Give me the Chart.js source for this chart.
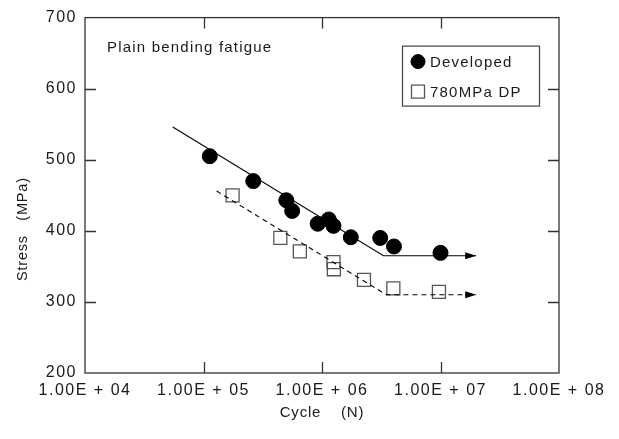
<!DOCTYPE html>
<html>
<head>
<meta charset="utf-8">
<script src="https://cdn.jsdelivr.net/npm/chart.js@4.4.1/dist/chart.umd.min.js"></script>
<style>
  html, body { margin: 0; padding: 0; background: #fff; }
  #wrap { width: 619px; height: 439px; }
</style>
</head>
<body>
<div id="wrap"><canvas id="c"></canvas></div>
<script>
// values
const developedCycles = [1.13e5, 2.63e5, 5.0e5, 5.6e5, 9.2e5, 1.14e6, 1.25e6, 1.75e6, 3.1e6, 4.05e6, 1.0e7];
const developedStress = [505, 470, 443, 428, 410, 416, 407, 391, 390, 378, 369];
const dpCycles = [1.76e5, 4.45e5, 6.5e5, 1.25e6, 1.26e6, 2.26e6, 4.0e6, 9.7e6];
const dpStress = [450, 390, 371, 356, 346, 331, 319, 314];

// fatigue limit lines (start, knee, arrow tip)
const developedFitCycles = [5.5e4, 3.3e6, 2.0e7];
const developedFitStress = [546, 365, 365];
const dpFitCycles = [1.29e5, 3.5e6, 2.0e7];
const dpFitStress = [456, 310, 310];

const xTickValues = [1e4, 1e5, 1e6, 1e7, 1e8];
const xTickLabels = ['1.00E + 04', '1.00E + 05', '1.00E + 06', '1.00E + 07', '1.00E + 08'];
const yTickValues = [200, 300, 400, 500, 600, 700];

const seriesNames = ['Developed', '780MPa DP'];
const noteText = 'Plain bending fatigue';

const toPoints = (xs, ys) => xs.map((x, i) => ({ x: x, y: ys[i] }));

Chart.defaults.font.family = "'Liberation Sans', Arial, sans-serif";
Chart.defaults.color = '#1a1a1a';

const LABEL_SPACING = '1.5px';
const TITLE_SPACING = '0.8px';

const framePlugin = {
  id: 'frame',
  beforeUpdate(chart) {
    chart.ctx.letterSpacing = LABEL_SPACING;
  },
  beforeDraw(chart) {
    // axis titles are drawn in the first scale layer
    chart.ctx.letterSpacing = TITLE_SPACING;
  },
  beforeDatasetsDraw(chart) {
    const { ctx, chartArea: a, scales } = chart;
    ctx.save();
    ctx.strokeStyle = '#333';
    ctx.lineWidth = 1.3;
    ctx.strokeRect(a.left, a.top, a.width, a.height);
    ctx.beginPath();
    xTickValues.slice(1, -1).forEach(v => {
      const px = Math.round(scales.x.getPixelForValue(v)) + 0.5;
      ctx.moveTo(px, a.bottom); ctx.lineTo(px, a.bottom - 11);
      ctx.moveTo(px, a.top); ctx.lineTo(px, a.top + 11);
    });
    yTickValues.slice(1, -1).forEach(v => {
      const py = Math.round(scales.y.getPixelForValue(v)) + 0.5;
      ctx.moveTo(a.left, py); ctx.lineTo(a.left + 11, py);
      ctx.moveTo(a.right, py); ctx.lineTo(a.right - 11, py);
    });
    ctx.stroke();
    ctx.restore();
  },
  afterDatasetsDraw(chart) {
    const { ctx, chartArea: a } = chart;
    ctx.save();
    // arrow heads at the end of the limit lines
    chart.data.datasets.forEach((ds, i) => {
      if (!ds.arrow) return;
      const meta = chart.getDatasetMeta(i);
      const tip = meta.data[meta.data.length - 1];
      ctx.fillStyle = '#000';
      ctx.beginPath();
      ctx.moveTo(tip.x, tip.y);
      ctx.lineTo(tip.x - 11, tip.y - 3.5);
      ctx.lineTo(tip.x - 11, tip.y + 3.5);
      ctx.closePath();
      ctx.fill();
    });

    ctx.letterSpacing = '1.2px';
    // note in upper left
    ctx.font = "15px 'Liberation Sans', Arial, sans-serif";
    ctx.fillStyle = '#1a1a1a';
    ctx.textBaseline = 'middle';
    ctx.textAlign = 'left';
    ctx.fillText(noteText, a.left + 22, a.top + 30);

    // legend box
    const bx = a.right - 157, by = a.top + 28, bw = 137, bh = 60;
    ctx.fillStyle = '#fff';
    ctx.fillRect(bx, by, bw, bh);
    ctx.strokeStyle = '#444';
    ctx.lineWidth = 1.2;
    ctx.strokeRect(bx + 0.5, by + 0.5, bw, bh);
    const legendSets = chart.data.datasets.filter(ds => ds.label);
    legendSets.forEach((ds, k) => {
      const cy = by + 16 + k * 30;
      ctx.fillStyle = ds.pointStyle === 'rect' ? '#fff' : ds.backgroundColor;
      ctx.strokeStyle = ds.borderColor;
      ctx.lineWidth = ds.pointBorderWidth || 1;
      Chart.helpers.drawPoint(ctx, {
        pointStyle: ds.pointStyle,
        radius: ds.pointStyle === 'rect' ? 9.2 : 7,
        rotation: 0,
        borderWidth: ds.pointBorderWidth || 1
      }, bx + 16, cy);
      ctx.fillStyle = '#1a1a1a';
      ctx.fillText(ds.label, bx + 28, cy + 1);
    });
    ctx.restore();
    // tick labels (z: 1) come after this
    ctx.letterSpacing = LABEL_SPACING;
  }
};

new Chart(document.getElementById('c'), {
  type: 'scatter',
  data: {
    datasets: [
      {
        data: toPoints(developedFitCycles, developedFitStress),
        showLine: true,
        borderColor: '#000',
        borderWidth: 1.1,
        pointRadius: 0,
        arrow: true
      },
      {
        data: toPoints(dpFitCycles, dpFitStress),
        showLine: true,
        borderColor: '#000',
        borderWidth: 1.1,
        borderDash: [5, 4],
        pointRadius: 0,
        arrow: true
      },
      {
        label: seriesNames[0],
        data: toPoints(developedCycles, developedStress),
        pointStyle: 'circle',
        pointRadius: 7.5,
        backgroundColor: '#000',
        borderColor: '#000',
        pointBorderWidth: 1
      },
      {
        label: seriesNames[1],
        data: toPoints(dpCycles, dpStress),
        pointStyle: 'rect',
        pointRadius: 9.2,
        backgroundColor: 'rgba(0,0,0,0)',
        borderColor: '#555',
        pointBorderWidth: 1.3
      }
    ]
  },
  options: {
    responsive: true,
    maintainAspectRatio: false,
    animation: false,
    layout: { padding: { left: 0, right: 60, top: 16, bottom: 0 } },
    plugins: {
      legend: { display: false },
      tooltip: { enabled: false }
    },
    scales: {
      x: {
        type: 'logarithmic',
        min: 1e4,
        max: 1e8,
        afterBuildTicks: s => { s.ticks = xTickValues.map(v => ({ value: v })); },
        afterFit: s => { s.height = 66; },
        grid: { display: false, drawTicks: false },
        border: { display: false },
        ticks: {
          z: 1,
          font: { size: 16 },
          padding: 8,
          maxRotation: 0,
          autoSkip: false,
          callback: v => xTickLabels[xTickValues.indexOf(v)] || ''
        },
        title: {
          display: true,
          text: 'Cycle    (N)',
          font: { size: 15 },
          padding: { top: 0, bottom: 17 }
        }
      },
      y: {
        type: 'linear',
        min: 200,
        max: 700,
        afterFit: s => { s.width = 85; },
        grid: { display: false, drawTicks: false },
        border: { display: false },
        ticks: {
          z: 1,
          stepSize: 100,
          font: { size: 16 },
          padding: 8
        },
        title: {
          display: true,
          text: 'Stress   (MPa)' + ' '.repeat(14),
          font: { size: 14.5 },
          padding: { top: 14, bottom: 0 }
        }
      }
    }
  },
  plugins: [framePlugin]
});
</script>
</body>
</html>
